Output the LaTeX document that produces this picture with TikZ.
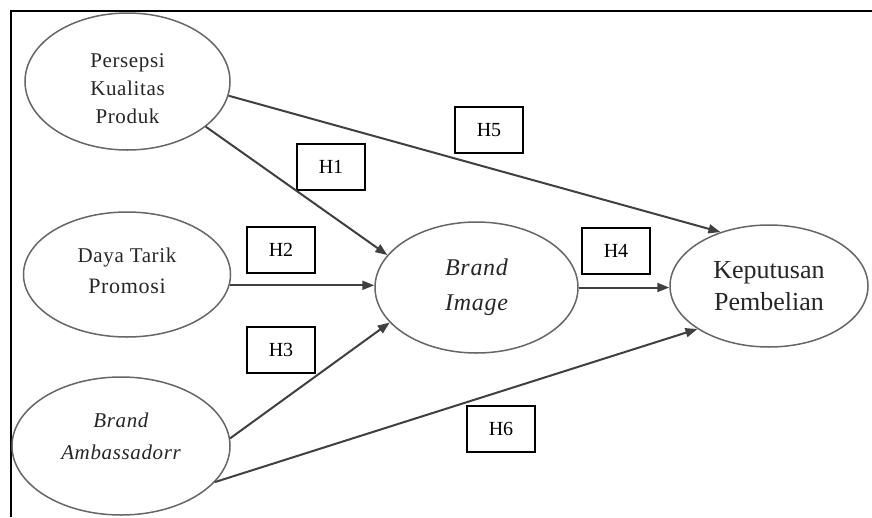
\documentclass[tikz,border=0pt]{standalone}
\usepackage{fontspec}
\setmainfont{Liberation Serif}
\newfontfamily\spaced[LetterSpace=3]{Liberation Serif}
\usetikzlibrary{shapes.geometric,arrows.meta}
\newcommand{\shifttext}[2]{\raisebox{#1}[\height][\depth]{\begin{tabular}{@{}c@{}}#2\end{tabular}}}
\begin{document}
\begin{tikzpicture}[x=1pt,y=-1pt,
  var/.style={ellipse,draw=black!60,line width=1.5pt,inner sep=0pt,align=center,text=black!85},
  hbox/.style={draw=black,line width=1.8pt,minimum width=68pt,minimum height=46pt,inner sep=0pt,font=\fontsize{20}{22}\selectfont},
  arr/.style={draw=black!75,line width=2pt,-{Triangle[length=12pt,width=9pt]}}]
\useasboundingbox (0,0) rectangle (872,517);
\fill[white] (0,0) rectangle (872,517);
\draw[line width=2pt] (11,517) -- (11,11) -- (872,11);

\node[var,minimum width=205pt,minimum height=137pt,font=\spaced\fontsize{21}{28}\selectfont] (pk) at (127.5,81.5) {\shifttext{-8pt}{Persepsi\\Kualitas\\Produk}};
\node[var,minimum width=207pt,minimum height=125pt,font=\spaced\fontsize{21}{31}\selectfont] (dt) at (127,274.5) {\shifttext{3pt}{Daya Tarik\\{\fontsize{22}{31}\selectfont Promosi}}};
\node[var,minimum width=218pt,minimum height=138pt,font=\spaced\itshape\fontsize{21}{32}\selectfont] (ba) at (121,446) {\shifttext{9pt}{Brand\\Ambassadorr}};
\node[var,minimum width=203pt,minimum height=131pt,font=\spaced\itshape\fontsize{24}{35}\selectfont] (bi) at (476.5,287.5) {\shifttext{2pt}{Brand\\Image}};
\node[var,minimum width=198pt,minimum height=122pt,font=\fontsize{26}{32}\selectfont] (kp) at (769,286) {Keputusan\\Pembelian};

\node[hbox] (h1) at (331,167) {H1};
\node[hbox] (h5) at (489,130) {H5};
\node[hbox] (h2) at (281,250) {H2};
\node[hbox] (h3) at (281,350) {H3};
\node[hbox] (h4) at (616,251) {H4};
\node[hbox] (h6) at (501,429) {H6};

\draw[arr] (pk.-8.4) -- (kp.132.8);
\draw[arr] (pk.-30.9) -- (bi.160.7);
\draw[arr] (dt.-6.4) -- (dt.-6.4 -| bi.west);
\draw[arr] (ba.4) -- (bi.202.6);
\draw[arr] (ba.-21.9) -- (kp.211.9);
\draw[arr] (bi.east) -- (bi.east -| kp.west);
\end{tikzpicture}
\end{document}
